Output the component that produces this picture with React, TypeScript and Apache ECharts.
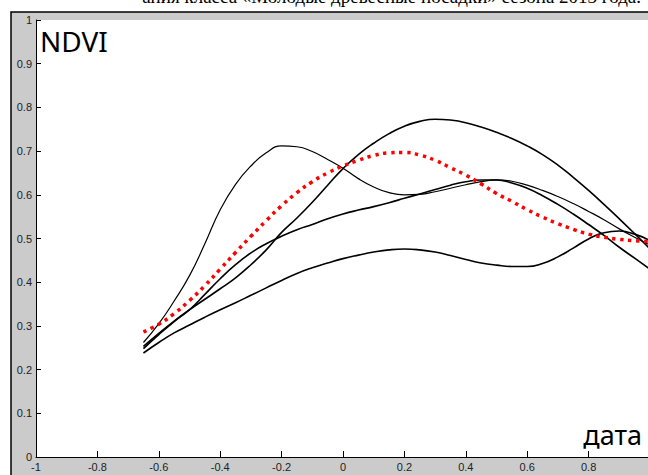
import { useEffect, useRef } from "react";
import * as echarts from "echarts";

const dates: number[] = [
  -0.65, -0.6, -0.55, -0.5, -0.45, -0.4, -0.35, -0.3, -0.25, -0.2, -0.15, -0.1,
  -0.05, 0, 0.05, 0.1, 0.15, 0.2, 0.25, 0.3, 0.35, 0.4, 0.45, 0.5, 0.55, 0.6,
  0.65, 0.7, 0.75, 0.8, 0.85, 0.9, 0.95, 1.0,
];

// NDVI values of the four black curves and the red mean curve
const ndviA: number[] = [
  0.262, 0.305, 0.357, 0.415, 0.488, 0.566, 0.624, 0.666, 0.696, 0.712, 0.71, 0.699,
  0.681, 0.661, 0.637, 0.618, 0.605, 0.6, 0.601, 0.607, 0.615, 0.623, 0.63, 0.634, 0.631, 0.622,
  0.61, 0.596, 0.58, 0.562, 0.543, 0.522, 0.503, 0.485,
];
const ndviB: number[] = [
  0.253, 0.283, 0.311, 0.337, 0.361, 0.385, 0.41, 0.44, 0.474, 0.514, 0.547, 0.583,
  0.622, 0.66, 0.692, 0.718, 0.74, 0.757, 0.768, 0.773, 0.771, 0.765, 0.755, 0.743, 0.729, 0.712,
  0.692, 0.668, 0.64, 0.61, 0.578, 0.545, 0.511, 0.476,
];
const ndviC: number[] = [
  0.248, 0.28, 0.31, 0.337, 0.372, 0.408, 0.44, 0.467, 0.488, 0.505, 0.52, 0.532,
  0.545, 0.556, 0.565, 0.573, 0.582, 0.592, 0.602, 0.612, 0.622, 0.63, 0.634, 0.634, 0.627, 0.615,
  0.598, 0.578, 0.556, 0.532, 0.507, 0.48, 0.455, 0.43,
];
const ndviD: number[] = [
  0.238, 0.262, 0.284, 0.302, 0.32, 0.337, 0.353, 0.37, 0.387, 0.404, 0.42, 0.433,
  0.444, 0.454, 0.462, 0.469, 0.474, 0.476, 0.474, 0.469, 0.461, 0.452, 0.444, 0.439, 0.436, 0.436,
  0.443, 0.458, 0.478, 0.499, 0.513, 0.517, 0.51, 0.495,
];
const ndviMean: number[] = [
  0.286, 0.304, 0.328, 0.358, 0.392, 0.43, 0.468, 0.505, 0.541, 0.575, 0.605, 0.63,
  0.65, 0.666, 0.679, 0.69, 0.696, 0.697, 0.691, 0.679, 0.662, 0.645, 0.625, 0.603, 0.585, 0.566,
  0.549, 0.534, 0.521, 0.51, 0.503, 0.498, 0.495, 0.493,
];

const titleText = "ания класса «Молодые древесные посадки» сезона 2013 года.";
const yAxisName = "NDVI";
const xAxisName = "дата";

const GRID_LEFT = 36;
const GRID_TOP = 20;
const GRID_W = 614;
const GRID_H = 437;

const pairs = (ys: number[]) => dates.map((d, i) => [d, ys[i]]);

export default function App() {
  const ref = useRef<HTMLDivElement>(null);
  useEffect(() => {
    document.body.style.margin = "0";
    const chart = echarts.init(ref.current!, null, { renderer: "svg" });
    const blackLine = (ys: number[], width: number) => ({
      type: "line",
      data: pairs(ys),
      smooth: 0.5,
      showSymbol: false,
      lineStyle: { color: "#000", width },
      z: 3,
    });
    chart.setOption({
      animation: false,
      backgroundColor: "#fff",
      grid: {
        left: GRID_LEFT,
        top: GRID_TOP,
        width: GRID_W,
        height: GRID_H,
        containLabel: false,
        outerBoundsMode: "none",
      },
      xAxis: {
        type: "value",
        min: -1,
        max: 1,
        interval: 0.2,
        axisLine: { show: true, onZero: false, lineStyle: { color: "#000", width: 1 } },
        axisTick: { show: true, inside: true, length: 6, lineStyle: { color: "#000" } },
        axisLabel: {
          color: "#222",
          fontSize: 11,
          fontFamily: "Liberation Sans",
          margin: 4,
          showMaxLabel: false,
        },
        splitLine: { show: false },
      },
      yAxis: {
        type: "value",
        min: 0,
        max: 1,
        interval: 0.1,
        axisLine: { show: true, onZero: false, lineStyle: { color: "#000", width: 1 } },
        axisTick: { show: true, inside: true, length: 5, lineStyle: { color: "#000" } },
        axisLabel: { color: "#222", fontSize: 11, fontFamily: "Liberation Sans", margin: 4 },
        splitLine: { show: false },
      },
      graphic: [
        {
          type: "rect",
          z: -2,
          silent: true,
          shape: { x: 11, y: 12, width: 660, height: 480 },
          style: { fill: "#cbcbcb", stroke: "#000", lineWidth: 1.5 },
        },
        {
          type: "rect",
          z: -1,
          silent: true,
          shape: { x: GRID_LEFT, y: GRID_TOP, width: GRID_W, height: GRID_H },
          style: { fill: "#fff" },
        },
        {
          type: "text",
          z: 10,
          style: {
            text: titleText,
            x: 641,
            y: -3.5,
            align: "right",
            verticalAlign: "middle",
            font: "19px 'Liberation Serif'",
            fill: "#000",
          },
        },
        {
          type: "text",
          z: 10,
          style: {
            text: yAxisName,
            x: 40,
            y: 41,
            align: "left",
            verticalAlign: "middle",
            font: "28px 'Noto Sans'",
            fill: "#000",
          },
        },
        {
          type: "text",
          z: 10,
          style: {
            text: xAxisName,
            x: 642,
            y: 434.5,
            align: "right",
            verticalAlign: "middle",
            font: "27px 'Noto Sans'",
            fill: "#000",
          },
        },
      ],
      series: [
        blackLine(ndviA, 1.2),
        blackLine(ndviB, 1.6),
        blackLine(ndviC, 1.6),
        blackLine(ndviD, 1.6),
        {
          type: "line",
          data: pairs(ndviMean),
          smooth: 0.5,
          showSymbol: false,
          lineStyle: { color: "#ff0000", width: 3.5, type: [3.5, 4.5], cap: "butt" },
          z: 4,
        },
      ],
    });
    return () => chart.dispose();
  }, []);
  return (
    <div
      ref={ref}
      style={{ position: "absolute", left: 0, top: 0, width: 648, height: 475, background: "#fff" }}
    />
  );
}
